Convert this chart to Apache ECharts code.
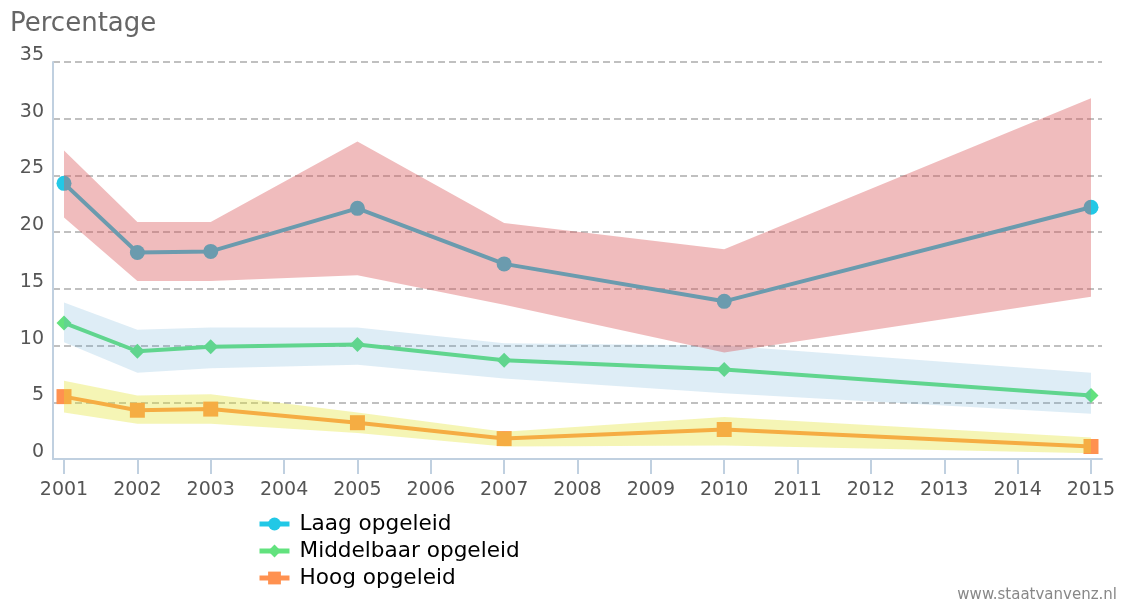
<!DOCTYPE html>
<html>
<head>
<meta charset="utf-8">
<script src="https://cdn.jsdelivr.net/npm/echarts@6/dist/echarts.min.js"></script>
<style>
  html, body { margin: 0; padding: 0; background: #fff; }
  #chart { width: 1140px; height: 603px; }
</style>
</head>
<body>
<div id="chart"></div>
<script>
// jaren en percentages per opleidingsniveau (met onder- en bovengrens)
var years = [2001, 2002, 2003, 2005, 2007, 2010, 2015];
var tickYears = [2001, 2002, 2003, 2004, 2005, 2006, 2007, 2008, 2009, 2010, 2011, 2012, 2013, 2014, 2015];

var laag = [24.3, 18.2, 18.3, 22.1, 17.2, 13.9, 22.2];
var laagLow = [21.3, 15.7, 15.7, 16.2, 13.6, 9.4, 14.3];
var laagHigh = [27.2, 20.9, 20.9, 28.0, 20.8, 18.5, 31.8];

var midden = [12.0, 9.5, 9.9, 10.1, 8.7, 7.9, 5.6];
var middenLow = [10.3, 7.6, 8.0, 8.3, 7.1, 5.8, 4.0];
var middenHigh = [13.8, 11.4, 11.6, 11.6, 10.2, 10.0, 7.6];

var hoog = [5.5, 4.3, 4.4, 3.2, 1.8, 2.6, 1.1];
var hoogLow = [4.1, 3.1, 3.1, 2.3, 1.1, 1.2, 0.5];
var hoogHigh = [6.9, 5.6, 5.7, 4.1, 2.4, 3.7, 1.9];

var font = "DejaVu Sans";

function pairs(vals) {
  return years.map(function (y, i) { return [y, vals[i]]; });
}

function lineSeries(name, vals, color, symbol) {
  return {
    name: name,
    type: "line",
    data: pairs(vals),
    z: 2,
    symbol: symbol,
    symbolSize: 15,
    showAllSymbol: true,
    color: color,
    lineStyle: { width: 4, color: color },
    itemStyle: { color: color },
  };
}

// band tussen onder- en bovengrens, als een polygoon over de hele reeks
function bandSeries(key, low, high, fill) {
  return {
    name: key,
    type: "custom",
    silent: true,
    z: 3,
    data: years.map(function (y, i) { return [y, low[i], high[i]]; }),
    encode: { x: 0, y: [1, 2] },
    renderItem: function (params, api) {
      if (params.dataIndex !== 0) return null;
      var pts = [];
      for (var i = 0; i < years.length; i++) pts.push(api.coord([years[i], high[i]]));
      for (var j = years.length - 1; j >= 0; j--) pts.push(api.coord([years[j], low[j]]));
      return {
        type: "polygon",
        shape: { points: pts },
        style: { fill: fill, stroke: null },
      };
    },
  };
}

var chart = echarts.init(document.getElementById("chart"));
var option = {
  animation: false,
  textStyle: { fontFamily: font },
  title: {
    text: "Percentage",
    left: 5,
    top: 6,
    textStyle: { fontFamily: font, fontSize: 26, fontWeight: "normal", color: "#666" },
  },
  grid: { left: 53, right: 38, top: 62, bottom: 144 },
  legend: {
    data: ["Laag opgeleid", "Middelbaar opgeleid", "Hoog opgeleid"],
    orient: "vertical",
    left: 257,
    top: 513,
    padding: 0,
    itemWidth: 30,
    itemHeight: 16,
    itemGap: 5,
    lineStyle: { width: 5 },
    textStyle: { fontFamily: font, fontSize: 21.6, color: "#000", padding: [0, 0, 0, 5] },
  },
  xAxis: {
    type: "value",
    min: 2000.85,
    max: 2015.15,
    axisLine: { show: true, lineStyle: { color: "#c0d0e0", width: 2 } },
    axisTick: {
      show: true,
      customValues: tickYears,
      length: 15,
      lineStyle: { color: "#c0d0e0", width: 2 },
    },
    axisLabel: {
      customValues: tickYears,
      formatter: function (v) { return String(v); },
      margin: 22,
      fontSize: 19,
      color: "#555",
      fontFamily: font,
    },
    splitLine: { show: false },
  },
  yAxis: {
    type: "value",
    min: 0,
    max: 35,
    interval: 5,
    axisLine: { show: true, lineStyle: { color: "#c0d0e0", width: 2 } },
    axisTick: { show: false },
    axisLabel: {
      fontSize: 19,
      color: "#555",
      margin: 9,
      verticalAlign: "bottom",
      lineHeight: 14,
      fontFamily: font,
    },
    splitLine: {
      show: true,
      lineStyle: { color: "#c0c0c0", width: 2, type: [7, 4] },
    },
  },
  graphic: [
    {
      type: "text",
      right: 23,
      bottom: 0,
      style: { text: "www.staatvanvenz.nl", fontSize: 15, fill: "#888", fontFamily: font },
    },
  ],
  series: [
    lineSeries("Laag opgeleid", laag, "#22c8e6", "circle"),
    lineSeries("Middelbaar opgeleid", midden, "#62e27e", "diamond"),
    lineSeries("Hoog opgeleid", hoog, "#ff9150", "rect"),
    bandSeries("middenBand", middenLow, middenHigh, "rgba(90,165,210,0.2)"),
    bandSeries("hoogBand", hoogLow, hoogHigh, "rgba(226,226,43,0.35)"),
    bandSeries("laagBand", laagLow, laagHigh, "rgba(217,87,90,0.4)"),
  ],
};
chart.setOption(option);
</script>
</body>
</html>
